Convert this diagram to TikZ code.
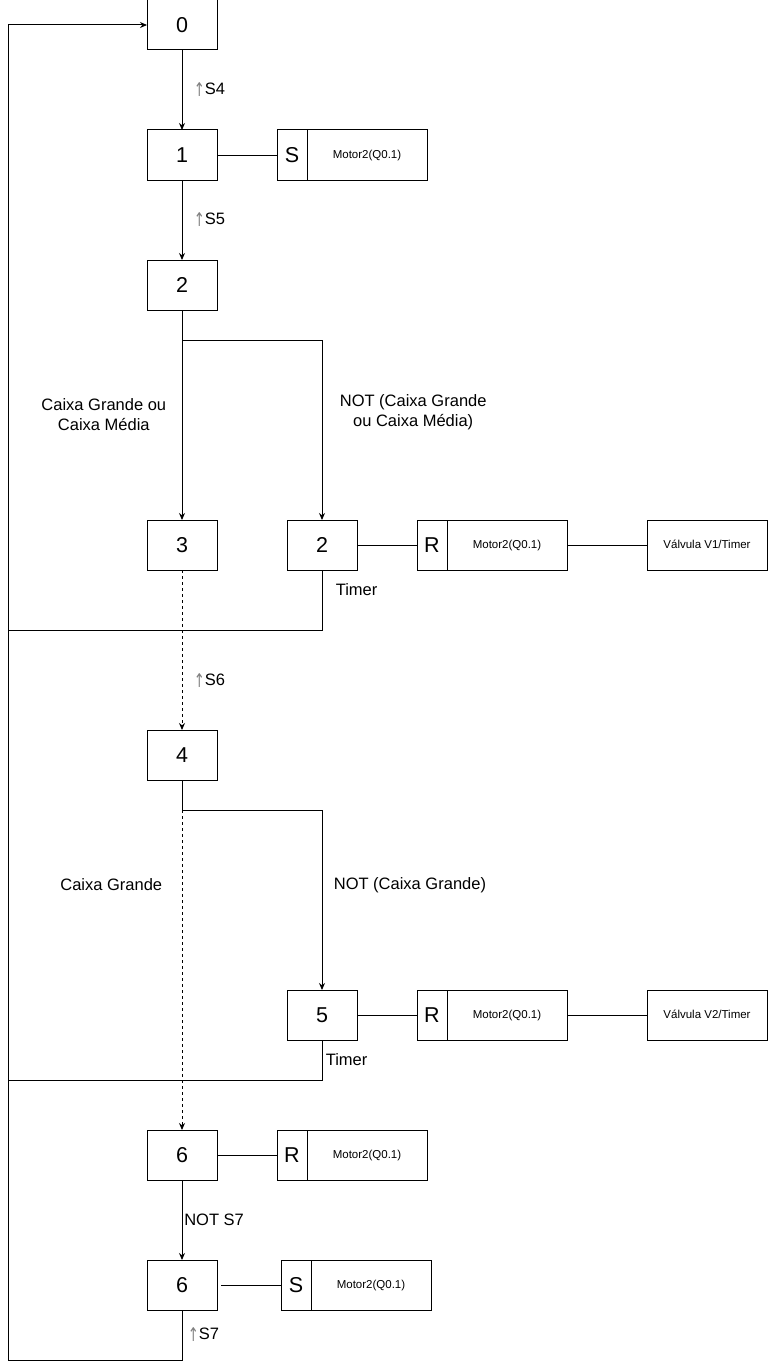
\documentclass[tikz,border=0pt]{standalone}
\usepackage{fontspec}
\setmainfont{Liberation Sans}
\newfontfamily\arrowfont{DejaVu Sans}
\usetikzlibrary{arrows.meta,positioning}

\newcommand{\edgeup}{{\arrowfont\color{gray}\raisebox{-2pt}{\scalebox{0.8}[1.15]{↑}}}}

\begin{document}
\begin{tikzpicture}[
    x=1pt, y=-1pt,
    line width=1pt,
    node distance=80pt,
    stepbox/.style={draw, minimum width=70pt, minimum height=50pt, inner sep=0pt, outer sep=0pt, font=\fontsize{21.5}{25}\selectfont},
    letterbox/.style={draw, minimum width=30pt, minimum height=50pt, inner sep=0pt, outer sep=0pt, font=\fontsize{21.5}{25}\selectfont},
    actbox/.style={draw, minimum width=120pt, minimum height=50pt, inner sep=0pt, outer sep=0pt, text depth=1pt, font=\fontsize{11.5}{14}\selectfont},
    lbl/.style={font=\fontsize{16.5}{20}\selectfont, align=center},
    arr/.style={-{Stealth[length=7pt,width=6pt]}},
    dotline/.style={dash pattern=on 3pt off 3pt}
  ]
    \useasboundingbox (0,0) rectangle (768,1362);

    % steps
    \node[stepbox] (s0) at (182,25) {0};
    \node[stepbox, below=of s0] (s1) {1};
    \node[stepbox, below=of s1] (s2) {2};
    \node[stepbox, below=210pt of s2] (s3) {3};
    \node[stepbox, right=70pt of s3] (s2b) {2};
    \node[stepbox, below=160pt of s3] (s4) {4};
    \node[stepbox, below=420pt of s2b] (s5) {5};
    \node[stepbox, below=350pt of s4] (s6) {6};
    \node[stepbox, below=of s6] (s6b) {6};

    % actions
    \node[letterbox, right=60pt of s1] (s1set) {S};
    \node[actbox, right=0pt of s1set] (s1act) {Motor2(Q0.1)};

    \node[letterbox, right=60pt of s2b] (s2rst) {R};
    \node[actbox, right=0pt of s2rst] (s2act) {Motor2(Q0.1)};
    \node[actbox, right=80pt of s2act] (s2valve) {Válvula V1/Timer};

    \node[letterbox, right=60pt of s5] (s5rst) {R};
    \node[actbox, right=0pt of s5rst] (s5act) {Motor2(Q0.1)};
    \node[actbox, right=80pt of s5act] (s5valve) {Válvula V2/Timer};

    \node[letterbox, right=60pt of s6] (s6rst) {R};
    \node[actbox, right=0pt of s6rst] (s6act) {Motor2(Q0.1)};

    \node[letterbox, right=64pt of s6b] (s6bset) {S};
    \node[actbox, right=0pt of s6bset] (s6bact) {Motor2(Q0.1)};

    % return line
    \coordinate (j0) at (8,25);
    \coordinate (j1) at (8,630);
    \coordinate (j2) at (8,1080);

    % transitions
    \draw[arr] (s0) -- node[lbl, right=8pt]{\edgeup S4} (s1);
    \draw[arr] (s1) -- node[lbl, right=8pt]{\edgeup S5} (s2);
    \draw[arr] (s2) -- node[lbl, left=12pt]{Caixa Grande ou\\Caixa Média} (s3);
    \draw[arr] (s2.south) -- ++(0,30) -| node[lbl, pos=0.7, right=14pt]{NOT (Caixa Grande\\ou Caixa Média)} (s2b.north);
    \draw (s2b.south) -- node[lbl, pos=0.33, right=10pt]{Timer} ++(0,60) -- (j1);
    \draw[arr, dotline] (s3) -- node[lbl, pos=0.69, right=8pt]{\edgeup S6} (s4);
    \draw[arr, dotline] (s4) -- node[lbl, pos=0.3, left=16pt]{Caixa Grande} (s6);
    \draw[arr] (s4.south) -- ++(0,30) -| node[lbl, pos=0.71, right=8pt]{NOT (Caixa Grande)} (s5.north);
    \draw (s5.south) -- node[lbl, right=0pt]{Timer} ++(0,40) -- (j2);
    \draw[arr] (s6) -- node[lbl, right=-1.5pt]{NOT S7} (s6b);
    \draw[arr] (s6b.south) -- node[lbl, right=2pt]{\edgeup S7} ++(0,50) -| (j0) -- (s0.west);

    % action links
    \draw (s1) -- (s1set);
    \draw (s2b) -- (s2rst);
    \draw (s2act) -- (s2valve);
    \draw (s5) -- (s5rst);
    \draw (s5act) -- (s5valve);
    \draw (s6) -- (s6rst);
    \draw ([xshift=4pt]s6b.east) -- (s6bset);
  \end{tikzpicture}
\end{document}
